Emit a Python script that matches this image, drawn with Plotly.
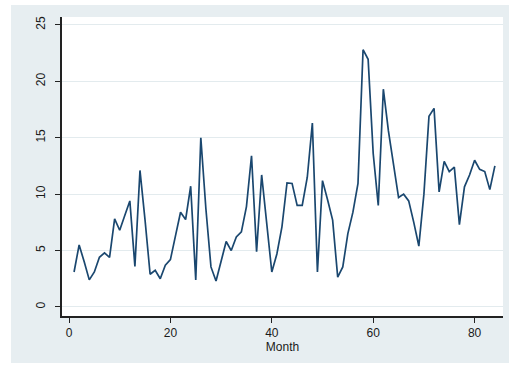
import plotly.graph_objects as go

# Monthly series, months 1..84
months = list(range(1, 85))
values = [
    3.1, 5.5, 4.0, 2.4, 3.1, 4.4, 4.8, 4.4, 7.8, 6.8,
    8.1, 9.4, 3.6, 12.1, 7.7, 2.9, 3.25, 2.5, 3.7, 4.2,
    6.3, 8.4, 7.75, 10.7, 2.4, 15.0, 8.7, 3.55, 2.3, 4.1,
    5.8, 5.0, 6.2, 6.65, 8.9, 13.4, 4.9, 11.7, 7.4, 3.1,
    4.7, 7.1, 11.0, 10.95, 9.0, 9.0, 11.5, 16.3, 3.1, 11.2,
    9.5, 7.7, 2.65, 3.55, 6.5, 8.4, 10.95, 22.8, 21.95, 13.6,
    9.0, 19.3, 15.6, 12.8, 9.7, 10.0, 9.4, 7.5, 5.4, 10.0,
    16.9, 17.6, 10.2, 12.9, 12.0, 12.4, 7.3, 10.65, 11.7, 13.0,
    12.2, 12.0, 10.4, 12.5,
]
x_ticks = [0, 20, 40, 60, 80]
y_ticks = [0, 5, 10, 15, 20, 25]

frame_bg = "#e7eef1"
grid_col = "#e3ebee"
line_col = "#1a476f"
font_family = "Liberation Sans, Arial, sans-serif"

fig = go.Figure()
fig.add_trace(go.Scatter(
    x=months, y=values, mode="lines",
    line=dict(color=line_col, width=1.7),
    showlegend=False, hoverinfo="skip",
))

fig.update_layout(
    width=509, height=365,
    margin=dict(l=62, r=6, t=17, b=49),
    paper_bgcolor=frame_bg,
    plot_bgcolor="white",
    font=dict(family=font_family, size=12, color="#1a1a1a"),
    xaxis=dict(
        range=[-1.38, 85.6],
        tickmode="array", tickvals=x_ticks,
        ticks="outside", ticklen=5, tickcolor="#222222", tickwidth=1.2,
        showline=True, linecolor="#222222", linewidth=1.5,
        showgrid=False, zeroline=False,
        tickfont=dict(size=12),
        title=dict(text="Month", standoff=1, font=dict(size=12)),
    ),
    yaxis=dict(
        range=[-0.8, 25.7],
        tickmode="array", tickvals=y_ticks,
        tickangle=-90,
        ticks="outside", ticklen=5, tickcolor="#222222", tickwidth=1.2,
        ticklabelstandoff=5,
        showline=True, linecolor="#222222", linewidth=1.5,
        showgrid=True, gridcolor=grid_col, gridwidth=1,
        zeroline=False,
        tickfont=dict(size=12),
    ),
    shapes=[
        # white page strips around the graph region
        dict(type="rect", xref="paper", yref="paper", x0=-0.3, x1=-0.1156,
             y0=-0.4, y1=1.3, fillcolor="white", line=dict(width=0), layer="above"),
        dict(type="rect", xref="paper", yref="paper", x0=-0.3, x1=1.2,
             y0=1.0401, y1=1.3, fillcolor="white", line=dict(width=0), layer="above"),
        dict(type="rect", xref="paper", yref="paper", x0=-0.3, x1=1.2,
             y0=-0.4, y1=-0.157, fillcolor="white", line=dict(width=0), layer="above"),
    ],
)

fig.write_html("out.html")
